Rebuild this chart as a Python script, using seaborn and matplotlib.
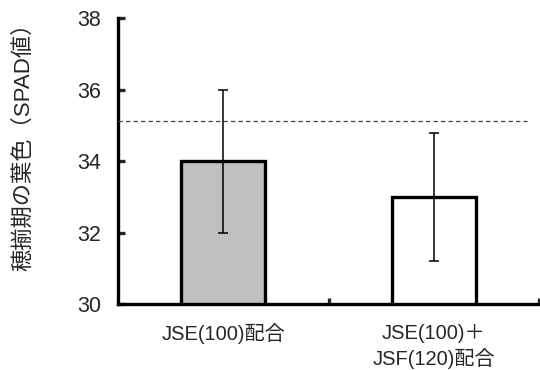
import numpy as np
import pandas as pd
import seaborn as sns
import matplotlib.pyplot as plt

# data
categories = ["JSE(100)配合", "JSE(100)＋\nJSF(120)配合"]
spad_values = [34.0, 33.0]
err_low = [32.0, 31.2]
err_high = [36.0, 34.8]
reference_line = 35.12
bar_colors = ["#c0c0c0", "#ffffff"]

sns.set_style("white")
plt.rcParams['font.family'] = ['Liberation Sans', 'Noto Sans CJK JP']

df = pd.DataFrame({"group": categories, "spad": spad_values})

fig = plt.figure(figsize=(5.4, 3.7), dpi=100)
ax = fig.add_axes([0.2185, 0.178, 0.78, 0.773])

sns.barplot(data=df, x="group", y="spad", hue="group", palette=bar_colors,
            width=0.4, edgecolor="black", linewidth=2.4, legend=False, ax=ax)

yerr = np.array([np.array(spad_values) - np.array(err_low),
                 np.array(err_high) - np.array(spad_values)])
ax.errorbar(np.arange(len(categories)), spad_values, yerr=yerr, fmt="none",
            ecolor="black", elinewidth=1.1, capsize=3.5, capthick=1.1, zorder=5)

# dashed reference line
ax.hlines(reference_line, -0.5, 1.44, colors="#444444", linestyles=(0, (3.5, 2.5)),
          linewidth=0.9, zorder=4)

ax.set_ylim(30, 38)
ax.set_xlim(-0.5, 1.5)
ax.set_yticks([30, 32, 34, 36, 38])
ax.set_xticks([0.5, 1.5])
ax.set_xticklabels([])
ax.set_xticks([0, 1], minor=True)
ax.set_xticklabels(categories, minor=True, fontsize=14.5, linespacing=1.35)
ax.tick_params(axis="x", which="minor", bottom=True, length=0, pad=14)
ax.tick_params(axis="x", which="major", bottom=True, direction="in", length=4, width=2.4)
ax.tick_params(axis="y", left=True, direction="in", length=5, width=2.4, labelsize=15.5, pad=12)

for side in ["top", "right"]:
    ax.spines[side].set_visible(False)
for side in ["left", "bottom"]:
    ax.spines[side].set_linewidth(2.4)
    ax.spines[side].set_color("black")

ax.set_xlabel("")
ax.set_ylabel("穂揃期の葉色（SPAD値）", fontsize=16)
ax.yaxis.set_label_coords(-0.2, 0.568)

fig.savefig("out.png", dpi=100)
